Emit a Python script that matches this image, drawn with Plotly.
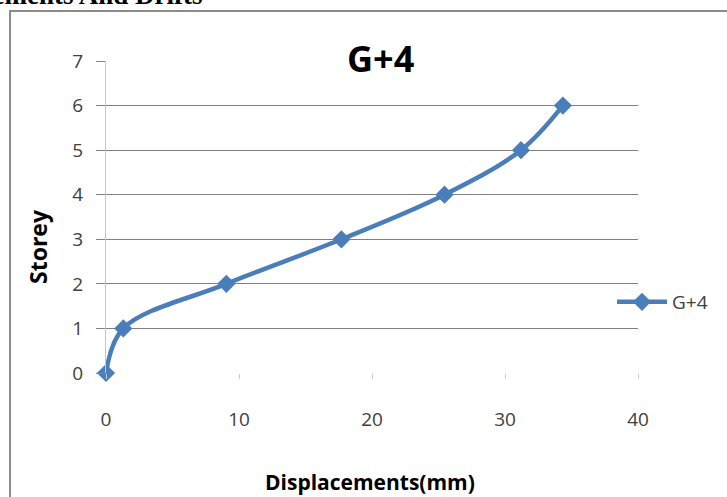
import plotly.graph_objects as go

displacement_mm = [0, 1.3, 9.05, 17.7, 25.45, 31.2, 34.35]
storey = [0, 1, 2, 3, 4, 5, 6]
series_name = "G+4"
chart_title = "G+4"
x_title = "Displacements(mm)"
y_title = "Storey"
header_text = "Displacements And Drifts"
x_ticks = [0, 10, 20, 30, 40]
y_ticks = [0, 1, 2, 3, 4, 5, 6, 7]

W, H = 727, 497
L, R, T, B = 106, 89, 61, 124
pw = W - L - R
ph = H - T - B

def px(x):
    return (x - L) / pw

def py(y):
    return (H - B - y) / ph

BLUE = "#4A7EBB"
FONT = "Open Sans"

fig = go.Figure()
fig.add_trace(go.Scatter(
    x=displacement_mm, y=storey, name=series_name,
    mode="lines+markers", cliponaxis=False,
    line=dict(color=BLUE, width=4.5, shape="spline", smoothing=1),
    marker=dict(symbol="diamond", size=14, color=BLUE),
))

fig.update_layout(
    width=W, height=H,
    margin=dict(l=L, r=R, t=T, b=B, pad=0),
    paper_bgcolor="white", plot_bgcolor="white",
    showlegend=True,
    legend=dict(x=px(612), y=py(302), xanchor="left", yanchor="middle",
                font=dict(family=FONT, size=19, color="#404040"),
                itemwidth=50, bgcolor="rgba(0,0,0,0)"),
    xaxis=dict(range=[0, 40], tickvals=x_ticks, showgrid=False,
               zeroline=False, showline=False,
               ticks="outside", ticklen=5, tickcolor="#c8c8c8",
               ticklabelstandoff=24,
               tickfont=dict(family=FONT, size=19, color="#404040")),
    yaxis=dict(range=[0, 7], tickvals=y_ticks, showgrid=True,
               gridcolor="#808080", gridwidth=1,
               zeroline=False, showline=True, linecolor="#c8c8c8", linewidth=1,
               ticks="outside", ticklen=9, tickcolor="#808080",
               ticklabelstandoff=9,
               tickfont=dict(family=FONT, size=19, color="#404040")),
)

# chart border
fig.add_shape(type="rect", xref="paper", yref="paper",
              x0=px(10), x1=px(740), y0=py(520), y1=py(11),
              line=dict(color="#8c8c8c", width=2), layer="below")

fig.add_annotation(text=chart_title, xref="paper", yref="paper",
                   x=px(380), y=py(58), xanchor="center", yanchor="middle",
                   showarrow=False,
                   font=dict(family=FONT, size=36, color="black", weight="bold"))
fig.add_annotation(text=x_title, xref="paper", yref="paper",
                   x=px(370), y=py(482), xanchor="center", yanchor="middle",
                   showarrow=False,
                   font=dict(family=FONT, size=21, color="black", weight="bold"))
fig.add_annotation(text=y_title, xref="paper", yref="paper",
                   x=px(38), y=py(247), xanchor="center", yanchor="middle",
                   showarrow=False, textangle=-90,
                   font=dict(family=FONT, size=23, color="black", weight="bold"))
fig.add_annotation(text=header_text, xref="paper", yref="paper",
                   x=px(205), y=py(12), xanchor="right", yanchor="bottom",
                   showarrow=False,
                   font=dict(family="Liberation Serif", size=27, color="black", weight="bold"))

fig.write_html("out.html")
